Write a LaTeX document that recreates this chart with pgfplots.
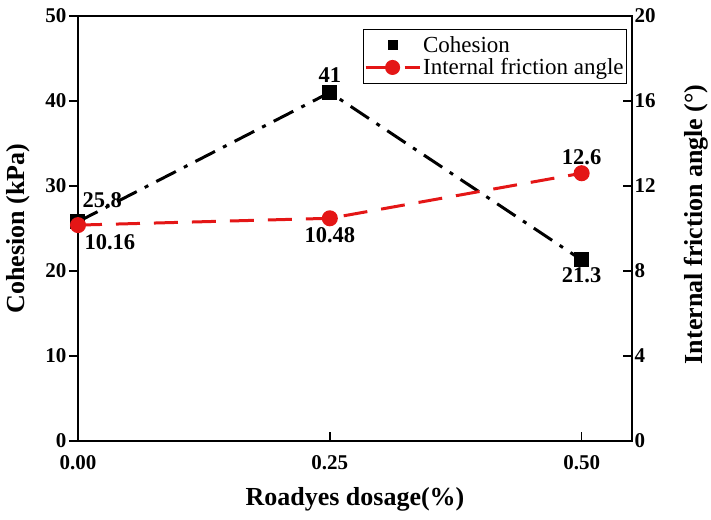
\documentclass[border=0pt]{standalone}
\usepackage{fontspec}
\setmainfont{Liberation Serif}
\usepackage{pgfplots}
\pgfplotsset{compat=1.18}
\definecolor{myred}{RGB}{228,22,22}
\pgfplotsset{
  cohleg/.style={legend image code/.code={\draw[##1] plot coordinates {(27pt,0pt)};}},
  fricleg/.style={legend image code/.code={\draw[mark repeat=2,mark phase=2,##1] plot coordinates {(0pt,0pt) (27pt,0pt) (54pt,0pt)};}},
}
\begin{document}
\begin{tikzpicture}
\pgfplotsset{
  common/.style={
    scale only axis, width=554pt, height=425pt,
    xmin=0, xmax=0.55,
    xtick={0,0.25,0.5},
    major tick length=9pt,
    axis line style={line width=1.6pt},
    tick style={line width=1.6pt, black},
    /pgf/number format/assume math mode=true,
    ticklabel style={font=\fontsize{21}{24}\selectfont\bfseries},
    label style={font=\fontsize{26}{30}\selectfont\bfseries},
  }
}
\begin{axis}[common,
  ymin=0, ymax=50, ytick={0,10,...,50},
  xtick pos=bottom, ytick pos=left,
  tick align=outside, xtick style={draw=none},
  x tick label style={/pgf/number format/fixed, /pgf/number format/fixed zerofill, /pgf/number format/precision=2, yshift=-2pt},
  yticklabel style={xshift=1pt},
  xlabel={Roadyes dosage(\%)}, ylabel={Cohesion (kPa)},
  xlabel style={at={(axis description cs:0.5,-0.137)}, anchor=center},
  ylabel style={at={(axis description cs:-0.108,0.5)}, anchor=center},
]
\coordinate (O) at (rel axis cs:0,0);
\addplot[black, line width=3pt, dash pattern=on 22pt off 9pt on 4pt off 9pt,
  mark=square*, mark size=6pt, mark options={solid}]
  coordinates {(0,25.8) (0.25,41) (0.5,21.3)};
\node[anchor=west, font=\fontsize{22.5}{25}\selectfont\bfseries] at (axis cs:0,25.8) [xshift=1pt, yshift=22pt] {25.8};
\node[font=\fontsize{22.5}{25}\selectfont\bfseries] at (axis cs:0.25,41) [yshift=17pt] {41};
\node[font=\fontsize{22.5}{25}\selectfont\bfseries] at (axis cs:0.5,21.3) [yshift=-15pt] {21.3};
\end{axis}
\begin{axis}[common,
  ymin=0, ymax=20, ytick={0,4,...,20},
  axis y line*=right, axis x line*=bottom,
  xticklabels={}, tick align=inside,
  yticklabel style={xshift=-1pt},
  ylabel={Internal friction angle (\textdegree)},
  ylabel style={at={(axis description cs:1.115,0.51)}, anchor=center, rotate=0},
  legend style={at={(rel axis cs:0.991,0.97)}, anchor=north east,
    draw=black, line width=0.8pt, font=\fontsize{23}{26}\selectfont,
    inner xsep=1pt, inner ysep=5pt, row sep=1pt,
    /tikz/every even column/.append style={column sep=0pt}},
  legend cell align=left,
]
\addlegendimage{black, only marks, mark=square*, mark size=4.5pt, cohleg}
\addlegendentry{Cohesion}
\addlegendimage{myred, line width=3pt, dash pattern=on 34pt off 5pt,
  mark=*, mark size=6pt, mark options={solid}, fricleg}
\addlegendentry{Internal friction angle}
\addplot[myred, line width=3pt, dash pattern=on 24pt off 14pt,
  mark=*, mark size=6.5pt, mark options={solid}, forget plot]
  coordinates {(0,10.16) (0.25,10.48) (0.5,12.6)};
\node[anchor=west, font=\fontsize{22.5}{25}\selectfont\bfseries] at (axis cs:0,10.16) [xshift=3pt, yshift=-17pt] {10.16};
\node[font=\fontsize{22.5}{25}\selectfont\bfseries] at (axis cs:0.25,10.48) [yshift=-17pt] {10.48};
\node[font=\fontsize{22.5}{25}\selectfont\bfseries] at (axis cs:0.5,12.6) [yshift=16pt] {12.6};
\end{axis}
\pgfresetboundingbox
\path (O) ++(-78pt,-78pt) rectangle ++(711pt,519pt);
\end{tikzpicture}
\end{document}
